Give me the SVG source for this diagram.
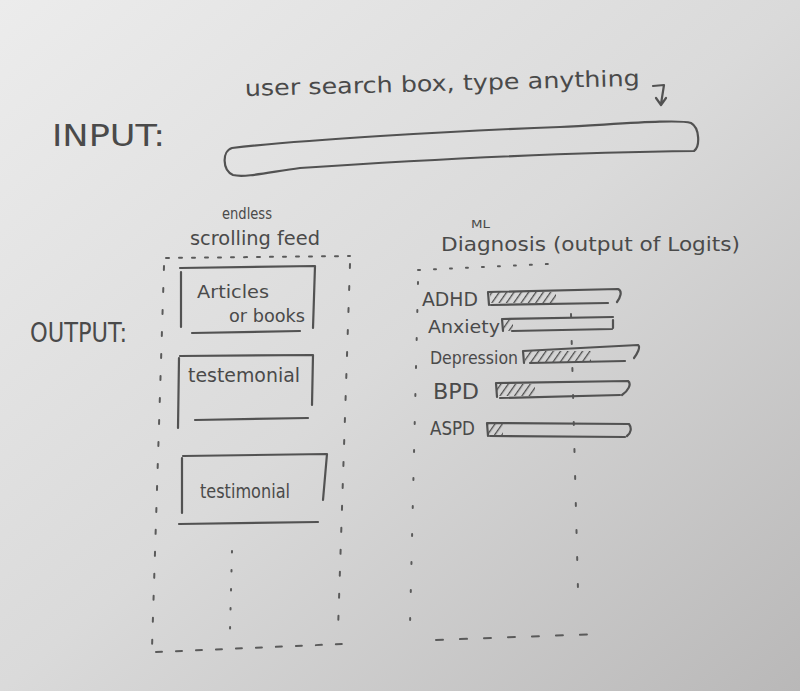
<svg xmlns="http://www.w3.org/2000/svg" width="800" height="691" viewBox="0 0 800 691">
  <defs>
    <!-- paper tone, lighter at the top left, shaded toward the bottom right -->
    <linearGradient id="paper" x1="0" y1="0" x2="1" y2="1">
      <stop offset="0" stop-color="#ececec"/>
      <stop offset="0.5" stop-color="#dadada"/>
      <stop offset="1" stop-color="#b9b8b8"/>
    </linearGradient>
    <!-- pencil hatching used for the filled part of each bar -->
    <pattern id="hatch" width="6" height="6" patternUnits="userSpaceOnUse" patternTransform="rotate(35)">
      <line x1="0" y1="0" x2="0" y2="6" stroke="#4e4e4e" stroke-width="2.6"/>
    </pattern>
    <style>
      .pen { fill: none; stroke: #525252; stroke-width: 2.2; stroke-linecap: round; stroke-linejoin: round; }
      .dash { fill: none; stroke: #5a5a5a; stroke-width: 2; stroke-linecap: round; }
      .hand { font-family: "DejaVu Sans", "Liberation Sans", sans-serif; fill: #4a4a4a; }
    </style>
  </defs>

  <rect width="800" height="691" fill="url(#paper)"/>

  <!-- input row -->
  <g id="input-label">
    <text class="hand" x="52" y="146" font-size="30" textLength="113" lengthAdjust="spacingAndGlyphs" fill="#5a5a5a">INPUT:</text>
  </g>
  <g id="search-caption">
    <text class="hand" x="245" y="96" font-size="22" textLength="395" lengthAdjust="spacingAndGlyphs" transform="rotate(-1.5 245 96)">user search box, type anything</text>
    <path class="pen" d="M653,86 L664,85 L661,104 M656,98 L661,105 L666,98" stroke-width="1.8"/>
  </g>
  <g id="search-box">
    <path class="pen" d="M232,148 C300,140 450,131 560,127 C620,124 678,119 691,123 C700,128 700,147 694,151 C600,152 450,158 300,168 C270,172 245,178 233,175 C222,170 222,151 232,148 Z"/>
  </g>

  <!-- output row -->
  <g id="output-label">
    <text class="hand" x="30" y="342" font-size="27" textLength="97" lengthAdjust="spacingAndGlyphs" fill="#5a5a5a">OUTPUT:</text>
  </g>

  <!-- feed column -->
  <g id="feed-title">
    <text class="hand" x="222" y="219" font-size="15" textLength="50" lengthAdjust="spacingAndGlyphs">endless</text>
    <text class="hand" x="190" y="245" font-size="20" textLength="130" lengthAdjust="spacingAndGlyphs">scrolling feed</text>
  </g>
  <g id="feed-frame">
    <path class="dash" stroke-dasharray="3 10" d="M166,258 L350,256"/>
    <path class="dash" stroke-dasharray="4 18" d="M164,266 L152,648"/>
    <path class="dash" stroke-dasharray="4 18" d="M350,264 L338,630"/>
    <path class="dash" stroke-dasharray="6 14" d="M156,652 L342,644"/>
  </g>
  <g id="card-articles">
    <path class="pen" d="M181,327 L181,272 M180,268 L315,266 L313,328 M192,333 L300,331"/>
    <text class="hand" x="197" y="298" font-size="18" textLength="72" lengthAdjust="spacingAndGlyphs">Articles</text>
    <text class="hand" x="229" y="322" font-size="18" textLength="76" lengthAdjust="spacingAndGlyphs">or books</text>
  </g>
  <g id="card-testemonial">
    <path class="pen" d="M178,428 L179,358 M180,356 L313,355 L312,405 M195,420 L308,418"/>
    <text class="hand" x="188" y="382" font-size="19" textLength="112" lengthAdjust="spacingAndGlyphs">testemonial</text>
  </g>
  <g id="card-testimonial">
    <path class="pen" d="M182,513 L182,458 M183,456 L327,454 L323,500 M179,524 L318,522"/>
    <text class="hand" x="200" y="498" font-size="19" textLength="90" lengthAdjust="spacingAndGlyphs">testimonial</text>
  </g>
  <g id="feed-more">
    <path class="dash" stroke-dasharray="1.5 17.5" d="M232,551 L230,630"/>
  </g>

  <!-- diagnosis column -->
  <g id="diagnosis-title">
    <text class="hand" x="471" y="228" font-size="11" textLength="19" lengthAdjust="spacingAndGlyphs">ML</text>
    <text class="hand" x="441" y="251" font-size="20" textLength="299" lengthAdjust="spacingAndGlyphs">Diagnosis (output of Logits)</text>
  </g>
  <g id="diagnosis-frame">
    <path class="dash" stroke-dasharray="2 14" d="M418,270 L548,264"/>
    <path class="dash" stroke-dasharray="2 26" d="M418,282 L410,625"/>
    <path class="dash" stroke-dasharray="3 24" d="M571,314 L578,590"/>
    <path class="dash" stroke-dasharray="7 17" d="M436,640 L598,634"/>
  </g>

  <g id="bar-adhd">
    <text class="hand" x="422" y="306" font-size="20" textLength="56" lengthAdjust="spacingAndGlyphs">ADHD</text>
    <rect x="490" y="292" width="66" height="11" fill="url(#hatch)"/>
    <path class="pen" d="M489,305 L488,292 L618,289 C623,291 620,298 617,302 M608,303 L491,305"/>
  </g>
  <g id="bar-anxiety">
    <text class="hand" x="428" y="333" font-size="18" textLength="72" lengthAdjust="spacingAndGlyphs">Anxiety</text>
    <rect x="502" y="319" width="11" height="12" fill="url(#hatch)"/>
    <path class="pen" d="M503,331 L502,319 L613,317 M613,320 L613,328 M512,331 L612,329"/>
  </g>
  <g id="bar-depression">
    <text class="hand" x="430" y="364" font-size="18" textLength="88" lengthAdjust="spacingAndGlyphs">Depression</text>
    <rect x="525" y="351" width="66" height="11" fill="url(#hatch)"/>
    <path class="pen" d="M524,363 L523,351 L638,345 C641,347 637,354 634,358 M625,361 L530,363"/>
  </g>
  <g id="bar-bpd">
    <text class="hand" x="433" y="399" font-size="21" textLength="46" lengthAdjust="spacingAndGlyphs">BPD</text>
    <rect x="497" y="384" width="38" height="12" fill="url(#hatch)"/>
    <path class="pen" d="M497,397 L496,383 L628,381 C632,384 628,391 622,395 M620,395 L500,398"/>
  </g>
  <g id="bar-aspd">
    <text class="hand" x="430" y="435" font-size="19" textLength="45" lengthAdjust="spacingAndGlyphs">ASPD</text>
    <rect x="488" y="424" width="15" height="11" fill="url(#hatch)"/>
    <path class="pen" d="M488,436 L487,423 L629,424 C632,428 631,433 627,436 M625,437 L490,436"/>
  </g>
</svg>
